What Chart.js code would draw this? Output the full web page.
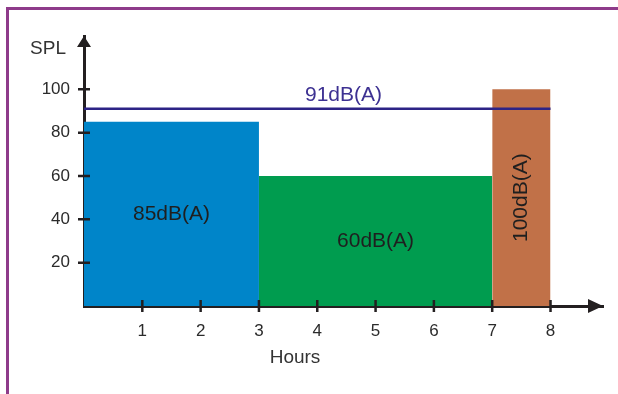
<!DOCTYPE html>
<html>
<head>
<meta charset="utf-8">
<script src="https://cdn.jsdelivr.net/npm/chart.js@4.4.1/dist/chart.umd.min.js"></script>
<style>
  html, body { margin: 0; padding: 0; background: #fff; }
  #wrap { position: relative; width: 618px; height: 394px; overflow: hidden; }
  #frame {
    position: absolute; left: 6px; top: 7px; right: -10px; bottom: -10px;
    border-left: 3px solid #8e3b8a; border-top: 3px solid #8e3b8a;
  }
  canvas { position: absolute; left: 0; top: 0; }
</style>
</head>
<body>
<div id="wrap">
  <div id="frame"></div>
  <canvas id="splChart" width="618" height="394"></canvas>
</div>
<script>
// exposure periods: start hour, end hour, sound level
const hourTicks = [1, 2, 3, 4, 5, 6, 7, 8];
const splTicks = [20, 40, 60, 80, 100];
const periodStart = [0, 3, 7];
const periodEnd = [3, 7, 8];
const periodLevel = [85, 60, 100];
const periodLabels = ['85dB(A)', '60dB(A)', '100dB(A)'];
const periodColors = ['#0085c9', '#009c4f', '#c17148'];
const limitLevel = 91;
const limitLabel = '91dB(A)';

const FONT = '"Liberation Sans", Arial, sans-serif';
const AXIS = '#231f20';

// each period is a filled step down to zero
const periodSets = periodLevel.map((lvl, i) => ({
    data: [{x: periodStart[i], y: lvl}, {x: periodEnd[i], y: lvl}],
    backgroundColor: periodColors[i],
    borderColor: 'rgba(0,0,0,0)',
    borderWidth: 0,
    pointRadius: 0,
    fill: 'origin',
    order: 2
}));

const limitSet = {
    data: [{x: 0, y: limitLevel}, {x: 8, y: limitLevel}],
    borderColor: '#2d2386',
    borderWidth: 2.5,
    pointRadius: 0,
    fill: false,
    order: 1
};

const axisDecor = {
    id: 'axisDecor',
    afterDatasetsDraw(chart) {
        const {ctx, scales: {x, y}} = chart;
        ctx.save();
        ctx.font = '21px ' + FONT;
        ctx.textAlign = 'center';
        ctx.textBaseline = 'middle';
        ctx.fillStyle = '#1f1f1f';
        periodLevel.forEach((lvl, i) => {
            const cx = (x.getPixelForValue(periodStart[i]) + x.getPixelForValue(periodEnd[i])) / 2;
            const cy = (y.getPixelForValue(0) + y.getPixelForValue(lvl)) / 2;
            ctx.save();
            ctx.translate(cx, cy);
            if (periodEnd[i] - periodStart[i] < 2) ctx.rotate(-Math.PI / 2);
            ctx.fillText(periodLabels[i], 0, 0);
            ctx.restore();
        });
        ctx.fillStyle = '#3d3192';
        ctx.textBaseline = 'bottom';
        ctx.fillText(limitLabel, x.getPixelForValue(4.45), y.getPixelForValue(limitLevel) - 3);
        ctx.restore();
    },
    afterDraw(chart) {
        const {ctx, chartArea: a, scales: {x, y}} = chart;
        const ox = a.left, oy = a.bottom;
        ctx.save();
        ctx.strokeStyle = AXIS;
        ctx.fillStyle = AXIS;
        ctx.lineWidth = 2.5;
        // tick marks crossing the axes
        ctx.beginPath();
        hourTicks.forEach(v => {
            const px = x.getPixelForValue(v);
            ctx.moveTo(px, oy - 6);
            ctx.lineTo(px, oy + 6);
        });
        splTicks.forEach(v => {
            const py = y.getPixelForValue(v);
            ctx.moveTo(ox - 6, py);
            ctx.lineTo(ox + 6, py);
        });
        ctx.stroke();
        // arrow heads
        ctx.beginPath();
        ctx.moveTo(ox, a.top);
        ctx.lineTo(ox - 7, a.top + 11);
        ctx.lineTo(ox + 7, a.top + 11);
        ctx.closePath();
        ctx.moveTo(a.right, oy);
        ctx.lineTo(a.right - 15, oy - 7);
        ctx.lineTo(a.right - 15, oy + 7);
        ctx.closePath();
        ctx.fill();
        // axis titles
        ctx.fillStyle = '#333';
        ctx.font = '19px ' + FONT;
        ctx.textAlign = 'center';
        ctx.textBaseline = 'middle';
        ctx.fillText('Hours', 295, 358);
        ctx.fillText('SPL', 48, 49);
        ctx.restore();
    }
};

new Chart(document.getElementById('splChart'), {
    type: 'line',
    data: { datasets: [...periodSets, limitSet] },
    options: {
        responsive: false,
        animation: false,
        layout: { padding: { top: 36, right: 15, left: 0, bottom: 0 } },
        plugins: { legend: { display: false }, tooltip: { enabled: false } },
        scales: {
            x: {
                type: 'linear',
                min: 0,
                max: 8.9,
                z: 1,
                afterBuildTicks: s => { s.ticks = hourTicks.map(v => ({value: v})); },
                afterFit: s => { s.height = 88; },
                grid: { display: false },
                border: { display: true, color: AXIS, width: 3 },
                ticks: { color: '#2b2b2b', font: { family: FONT, size: 17 }, padding: 7 }
            },
            y: {
                min: 0,
                max: 124.6,
                z: 1,
                afterBuildTicks: s => { s.ticks = splTicks.map(v => ({value: v})); },
                afterFit: s => { s.width = 84; },
                grid: { display: false },
                border: { display: true, color: AXIS, width: 3 },
                ticks: { color: '#2b2b2b', font: { family: FONT, size: 17 }, padding: 6 }
            }
        }
    },
    plugins: [axisDecor]
});
</script>
</body>
</html>
